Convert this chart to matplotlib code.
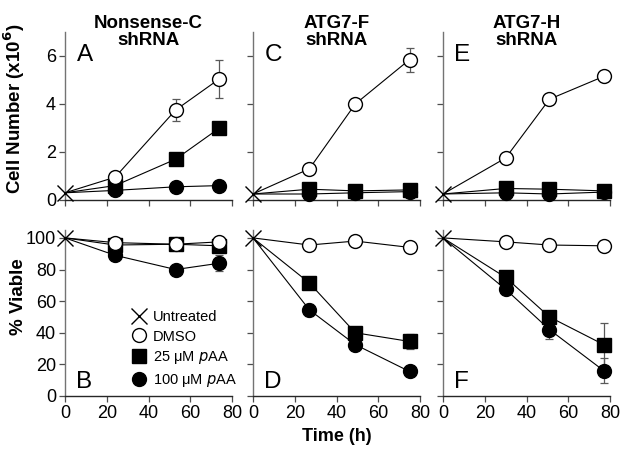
import matplotlib
matplotlib.use("Agg")
import matplotlib.pyplot as plt
from matplotlib.lines import Line2D

plt.rcParams['font.family'] = ['Liberation Sans', 'DejaVu Sans']

# time points (h) for each knock-down line
time_nc = [24, 53, 74]
time_f = [27, 49, 75]
time_h = [30, 51, 77]

# cell number (x10^6)
untreated_cells = [0.3, 0.25, 0.25]
dmso_nc = [0.95, 3.75, 5.05]
dmso_nc_err = [0.1, 0.45, 0.8]
aa25_nc = [0.6, 1.7, 3.0]
aa100_nc = [0.4, 0.55, 0.6]

dmso_f = [1.3, 4.0, 5.85]
dmso_f_err = [0.05, 0.05, 0.5]
aa25_f = [0.45, 0.38, 0.42]
aa100_f = [0.25, 0.3, 0.35]

dmso_h = [1.75, 4.2, 5.15]
dmso_h_err = [0.05, 0.05, 0.05]
aa25_h = [0.48, 0.45, 0.38]
aa100_h = [0.3, 0.25, 0.33]

# % viable
untreated_via = [100, 97, 97]
via_dmso_nc = [97, 96, 97.5]
via_aa25_nc = [95.5, 96, 95]
via_aa100_nc = [89, 80, 84]
via_aa100_nc_err = [2, 2, 5]

via_dmso_f = [95.5, 98, 94]
via_aa25_f = [71.5, 40, 34.5]
via_aa25_f_err = [2, 3, 5]
via_aa100_f = [54.5, 32.5, 15.5]
via_aa100_f_err = [4, 3, 1]

via_dmso_h = [97.5, 95.5, 95]
via_aa25_h = [75, 50, 32.5]
via_aa25_h_err = [2, 3, 13.5]
via_aa100_h = [67.5, 42, 16]
via_aa100_h_err = [2, 6, 8]

titles = ["Nonsense-C\nshRNA", "ATG7-F\nshRNA", "ATG7-H\nshRNA"]
letters_top = ["A", "C", "E"]
letters_bot = ["B", "D", "F"]

W, H = 626, 455
fig = plt.figure(figsize=(W / 100, H / 100), dpi=100)

lefts = [65, 253, 443]
width = 167


def axes_px(x0, y_top, w, h):
    return fig.add_axes([x0 / W, 1 - (y_top + h) / H, w / W, h / H])


def style(ax, show_ylabels):
    ax.spines['top'].set_visible(False)
    ax.spines['right'].set_visible(False)
    ax.spines['left'].set_color('0.45')
    ax.spines['bottom'].set_color('0.15')
    ax.spines['left'].set_linewidth(1.0)
    ax.spines['bottom'].set_linewidth(1.0)
    ax.tick_params(direction='out', length=4, width=0.9, colors='0.3',
                   labelcolor='black', labelsize=13, pad=2.5)
    ax.set_xlim(0, 80)
    ax.set_xticks([0, 20, 40, 60, 80])
    if not show_ylabels:
        ax.tick_params(axis='y', labelleft=False)


def series(ax, t, y0, y, err, marker, face, z):
    xs = [0] + list(t)
    ys = [y0] + list(y)
    ax.plot(xs, ys, color='black', lw=0.8, zorder=2, clip_on=False)
    if err is not None:
        ax.errorbar(t, y, yerr=err, fmt='none', ecolor='0.35', elinewidth=0.9,
                    capsize=3, capthick=0.9, zorder=2, clip_on=False)
    ax.plot(t, y, linestyle='none', marker=marker, ms=10 if marker == 'o' else 9.5,
            mfc=face, mec='black', mew=1.0, zorder=z, clip_on=False)


top_sets = [
    (time_nc, untreated_cells[0], dmso_nc, dmso_nc_err, aa25_nc, aa100_nc),
    (time_f, untreated_cells[1], dmso_f, dmso_f_err, aa25_f, aa100_f),
    (time_h, untreated_cells[2], dmso_h, dmso_h_err, aa25_h, aa100_h),
]
bot_sets = [
    (time_nc, untreated_via[0], via_dmso_nc, via_aa25_nc, None, via_aa100_nc, via_aa100_nc_err),
    (time_f, untreated_via[0], via_dmso_f, via_aa25_f, via_aa25_f_err, via_aa100_f, via_aa100_f_err),
    (time_h, untreated_via[0], via_dmso_h, via_aa25_h, via_aa25_h_err, via_aa100_h, via_aa100_h_err),
]

for i in range(3):
    # cell number panel
    ax = axes_px(lefts[i], 32, width, 168)
    style(ax, i == 0)
    ax.set_ylim(0, 7)
    ax.set_yticks([0, 2, 4, 6])
    ax.tick_params(axis='x', labelbottom=False)
    t, u, d, de, s, c = top_sets[i]
    series(ax, t, u, c, None, 'o', 'black', 3)
    series(ax, t, u, s, None, 's', 'black', 4)
    series(ax, t, u, d, de, 'o', 'white', 5)
    ax.plot([0], [u], marker='x', ms=12, mew=1.0, color='black', zorder=6, clip_on=False)
    ax.text(5.5, 6.05, letters_top[i], fontsize=17.5, va='center', ha='left')
    ax.text(0.5, 0.9, titles[i], transform=ax.transAxes, ha='center', va='bottom',
            fontsize=13.5, fontweight='bold', linespacing=0.95)
    if i == 0:
        ax.set_ylabel("Cell Number (x10$^\\mathbf{6}$)", fontsize=13.5, fontweight='bold')
        ax.yaxis.set_label_coords(-0.23, 0.54)

    # viability panel
    axb = axes_px(lefts[i], 230, width, 166)
    style(axb, i == 0)
    axb.set_ylim(0, 105)
    axb.set_yticks([0, 20, 40, 60, 80, 100])
    t, u, d, s, se, c, ce = bot_sets[i]
    series(axb, t, u, c, ce, 'o', 'black', 3)
    series(axb, t, u, s, se, 's', 'black', 4)
    series(axb, t, u, d, None, 'o', 'white', 5)
    axb.plot([0], [u], marker='x', ms=12, mew=1.0, color='black', zorder=6, clip_on=False)
    axb.text(5.5, 9, letters_bot[i], fontsize=17.5, va='center', ha='left')
    if i == 0:
        axb.set_ylabel("% Viable", fontsize=13.5, fontweight='bold')
        axb.yaxis.set_label_coords(-0.23, 0.6)
        handles = [
            Line2D([], [], ls='none', marker='x', ms=11, mew=1.0, color='black'),
            Line2D([], [], ls='none', marker='o', ms=10, mfc='white', mec='black'),
            Line2D([], [], ls='none', marker='s', ms=9.5, mfc='black', mec='black'),
            Line2D([], [], ls='none', marker='o', ms=10, mfc='black', mec='black'),
        ]
        labels = ["Untreated", "DMSO", "25 \u03bcM $\\it{p}$AA", "100 \u03bcM $\\it{p}$AA"]
        axb.legend(handles, labels, loc='upper left', bbox_to_anchor=(0.405, 0.52),
                   frameon=False, fontsize=10.5, handlelength=0.9, handletextpad=0.5,
                   labelspacing=0.4, borderpad=0, borderaxespad=0)
    if i == 1:
        axb.set_xlabel("Time (h)", fontsize=13, fontweight='bold', labelpad=4)

fig.savefig("out.png", dpi=100)
